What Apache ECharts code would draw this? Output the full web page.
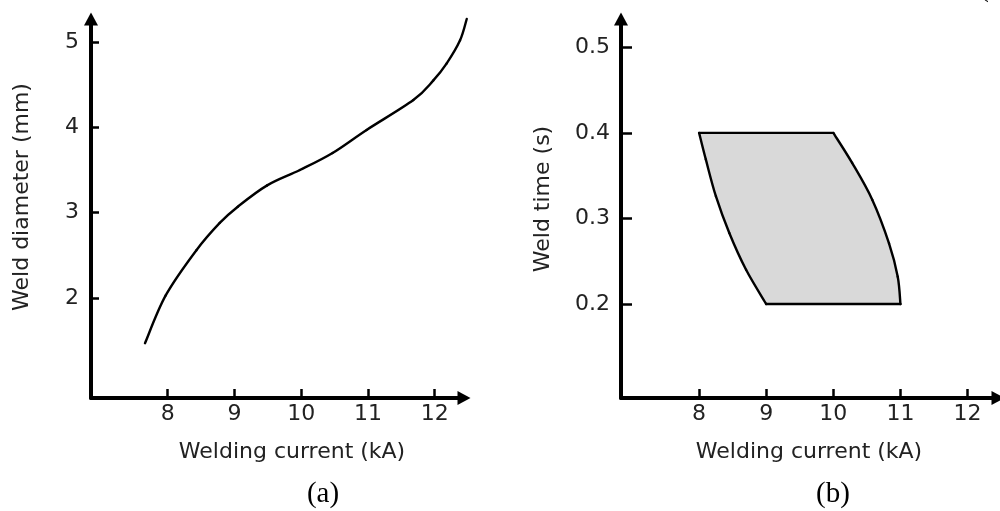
<!DOCTYPE html>
<html><head><meta charset="utf-8">
<script src="https://cdn.jsdelivr.net/npm/echarts@6/dist/echarts.min.js"></script>
<style>html,body{margin:0;padding:0;background:#fff}#c{width:1000px;height:511px}</style>
</head><body><div id="c"></div>
<script>
// (a) weld diameter vs welding current
const curveA = [[7.66,1.47],[7.97,2.03],[8.43,2.56],[8.78,2.88],[9.05,3.07],[9.49,3.32],[9.98,3.50],[10.47,3.70],[10.98,3.97],[11.68,4.32],[11.98,4.55],[12.18,4.75],[12.38,5.02],[12.48,5.27]];
// (b) weldability lobe edges
const topEdgeB = [[8.0,0.4],[10.0,0.4]];
const rightEdgeB = [[10.0,0.4],[10.28,0.365],[10.58,0.322],[10.83,0.271],[10.96,0.232],[11.0,0.2]];
const bottomEdgeB = [[11.0,0.2],[9.0,0.2]];
const leftEdgeB = [[9.0,0.2],[8.70,0.240],[8.45,0.283],[8.25,0.326],[8.10,0.369],[8.0,0.4]];
// tick labels
const xTicks = [8,9,10,11,12];
const yTicksA = [2,3,4,5];
const yTicksB = [0.2,0.3,0.4,0.5];

const lobe = topEdgeB.concat(rightEdgeB.slice(1), bottomEdgeB.slice(1), leftEdgeB.slice(1, -1));

const FONT = 'DejaVu Sans';
const FS = 22;
const TXT = '#222';
const axisLineStyle = (w) => ({show:true, onZero:false, symbol:['none','triangle'], symbolSize:[14,13], lineStyle:{color:'#000', width:w}});

function xAxisOf(grid, min, max) {
  return {type:'value', gridIndex:grid, min:min, max:max,
    axisLine: axisLineStyle(4),
    axisTick:{show:true, inside:true, length:9, lineStyle:{color:'#000', width:2.5}, customValues:xTicks},
    axisLabel:{show:true, margin:5, color:TXT, fontFamily:FONT, fontSize:FS, customValues:xTicks},
    splitLine:{show:false}};
}
function yAxisOf(grid, min, max, ticks, fmt, tl, mg) {
  return {type:'value', gridIndex:grid, min:min, max:max,
    axisLine: axisLineStyle(4),
    axisTick:{show:true, inside:true, length:tl, lineStyle:{color:'#000', width:2.5}, customValues:ticks},
    axisLabel:{show:true, margin:mg, color:TXT, fontFamily:FONT, fontSize:FS, customValues:ticks, formatter:fmt},
    splitLine:{show:false}};
}
const nameFont = FS + 'px "' + FONT + '"';

// smooth stroke through pixel points (Catmull-Rom -> cubic Bezier segments)
function smoothSegments(px, style) {
  const out = [];
  for (let i = 0; i < px.length - 1; i++) {
    const p0 = px[Math.max(i - 1, 0)], p1 = px[i], p2 = px[i + 1], p3 = px[Math.min(i + 2, px.length - 1)];
    out.push({type:'bezierCurve', shape:{
      x1:p1[0], y1:p1[1], x2:p2[0], y2:p2[1],
      cpx1:p1[0] + (p2[0] - p0[0]) / 6, cpy1:p1[1] + (p2[1] - p0[1]) / 6,
      cpx2:p2[0] - (p3[0] - p1[0]) / 6, cpy2:p2[1] - (p3[1] - p1[1]) / 6},
      style:style});
  }
  return out;
}
const strokeStyle = {stroke:'#000', lineWidth:2.4, fill:null, lineCap:'round'};

const chart = echarts.init(document.getElementById('c'), null, {renderer:'canvas'});
chart.setOption({
  animation:false,
  backgroundColor:'#fff',
  grid:[
    {left:91, top:19, width:373, height:379},
    {left:621, top:19, width:377, height:379}
  ],
  xAxis:[xAxisOf(0, 6.851, 12.439), xAxisOf(1, 6.836, 12.454)],
  yAxis:[
    yAxisOf(0, 0.828, 5.270, yTicksA, v => String(v), 8, 12),
    yAxisOf(1, 0.0902, 0.5331, yTicksB, v => v.toFixed(1), 11, 11)
  ],
  series:[
    {type:'custom', xAxisIndex:0, yAxisIndex:0, data:curveA, silent:true,
     renderItem:function(params, api){
       if (params.dataIndex !== 0) return null;
       return {type:'group', children:smoothSegments(curveA.map(p => api.coord(p)), strokeStyle)};
     }},
    {type:'custom', xAxisIndex:1, yAxisIndex:1, data:lobe, silent:true,
     renderItem:function(params, api){
       if (params.dataIndex !== 0) return null;
       const c = p => api.coord(p);
       const children = [{type:'polygon', shape:{points:lobe.map(c)}, style:{fill:'#d9d9d9', stroke:null}}];
       const lineOf = (e) => ({type:'line', shape:{x1:c(e[0])[0], y1:c(e[0])[1], x2:c(e[1])[0], y2:c(e[1])[1]}, style:strokeStyle});
       children.push(lineOf(topEdgeB), lineOf(bottomEdgeB));
       return {type:'group', children:children.concat(smoothSegments(rightEdgeB.map(c), strokeStyle), smoothSegments(leftEdgeB.map(c), strokeStyle))};
     }}
  ],
  graphic:[
    {type:'text', x:22, y:197, rotation:Math.PI/2, style:{text:'Weld diameter (mm)', font:nameFont, fill:TXT, align:'center', verticalAlign:'middle'}},
    {type:'text', x:292, y:452, style:{text:'Welding current (kA)', font:nameFont, fill:TXT, align:'center', verticalAlign:'middle'}},
    {type:'text', x:543, y:199, rotation:Math.PI/2, style:{text:'Weld time (s)', font:nameFont, fill:TXT, align:'center', verticalAlign:'middle'}},
    {type:'text', x:809, y:452, style:{text:'Welding current (kA)', font:nameFont, fill:TXT, align:'center', verticalAlign:'middle'}},
    {type:'text', x:323, y:494, style:{text:'(a)', font:'29px "Liberation Serif"', fill:'#000', align:'center', verticalAlign:'middle'}},
    {type:'text', x:833, y:494, style:{text:'(b)', font:'29px "Liberation Serif"', fill:'#000', align:'center', verticalAlign:'middle'}},
    {type:'text', x:984, y:-12, style:{text:'(', font:'29px "Liberation Serif"', fill:'#000', align:'center', verticalAlign:'middle'}}
  ]
});
</script>
</body></html>
